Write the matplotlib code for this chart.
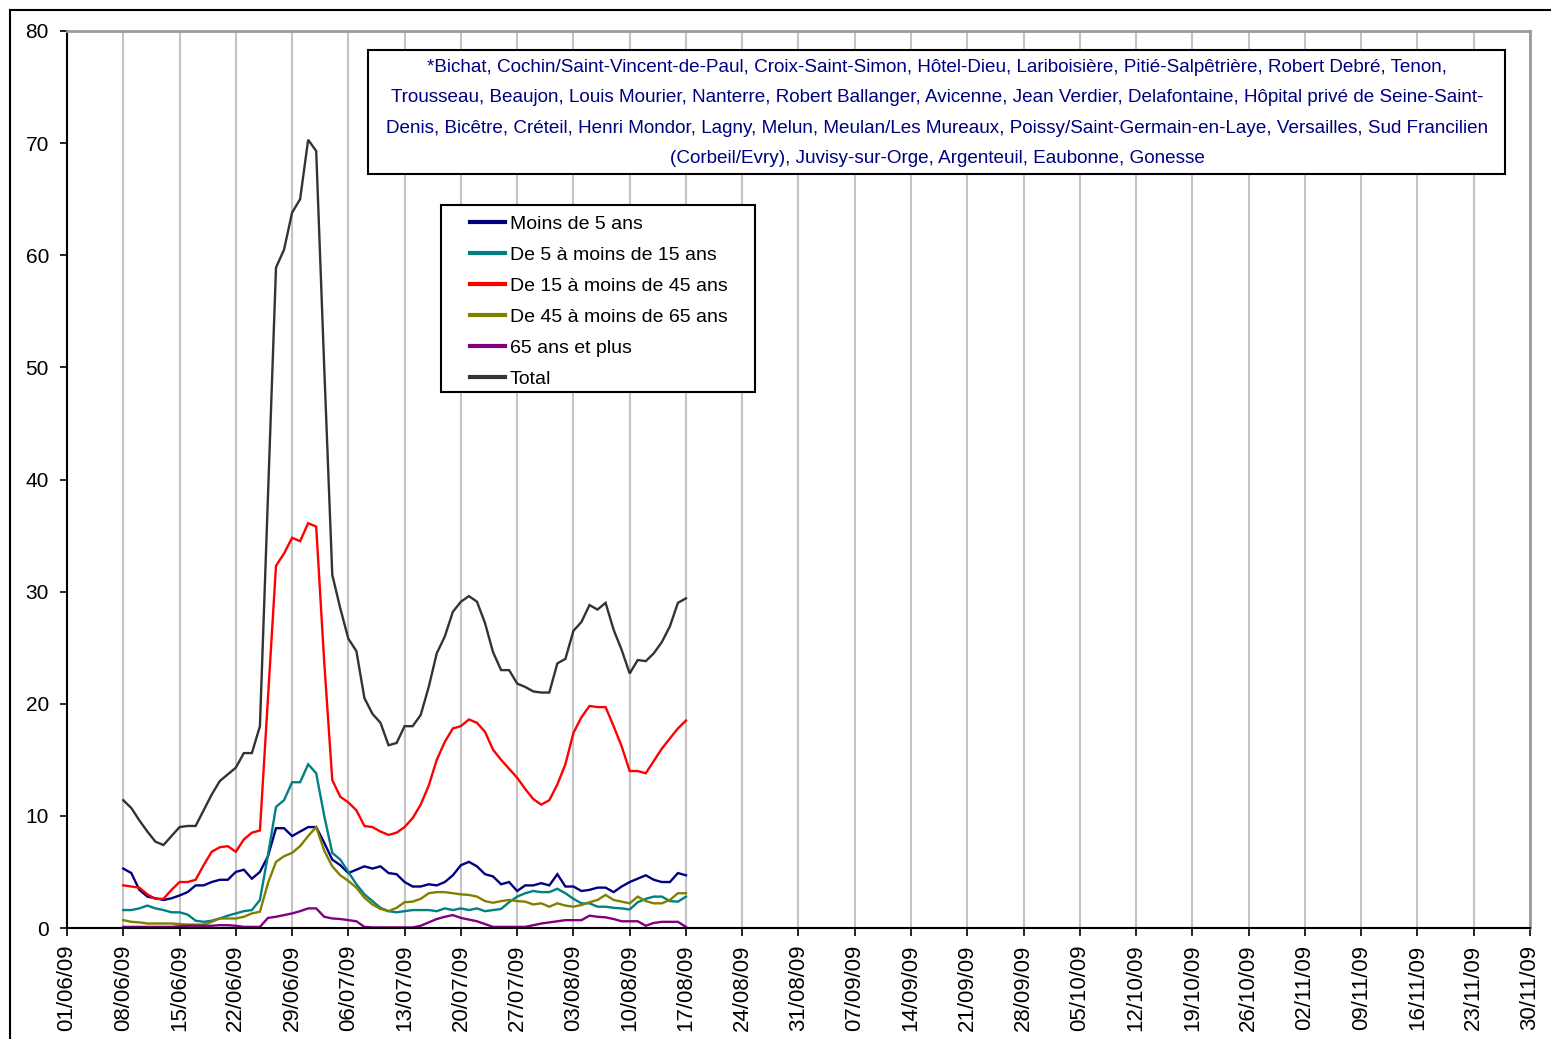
import matplotlib
matplotlib.use("Agg")
import matplotlib.pyplot as plt
from matplotlib.lines import Line2D
from matplotlib.patches import Rectangle
import pandas as pd

plt.rcParams.update({
    "font.family": ["Liberation Sans", "DejaVu Sans"],
    "font.size": 14,
})

# daily values, 08/06/09 -> 17/08/09
dates = pd.date_range("2009-06-08", "2009-08-17", freq="D")

moins5 = [5.3, 4.9, 3.4, 2.8, 2.65, 2.5, 2.65, 2.9, 3.2, 3.8,
          3.8, 4.1, 4.3, 4.3, 5.0, 5.2, 4.4, 5.0, 6.4, 8.9,
          8.9, 8.2, 8.6, 9.0, 9.0, 7.6, 6.1, 5.6, 4.9, 5.2,
          5.5, 5.3, 5.5, 4.9, 4.8, 4.1, 3.7, 3.7, 3.9, 3.8,
          4.1, 4.7, 5.6, 5.9, 5.5, 4.8, 4.6, 3.9, 4.1, 3.3,
          3.8, 3.8, 4.0, 3.8, 4.8, 3.7, 3.7, 3.3, 3.4, 3.6,
          3.6, 3.2, 3.7, 4.1, 4.4, 4.7, 4.3, 4.1, 4.1, 4.9,
          4.7]
de5_15 = [1.6, 1.6, 1.75, 2.0, 1.75, 1.6, 1.4, 1.4, 1.2, 0.65,
          0.55, 0.65, 0.85, 1.1, 1.3, 1.5, 1.6, 2.5, 6.5, 10.8,
          11.4, 13.0, 13.0, 14.6, 13.8, 10.0, 6.7, 6.1, 5.0, 3.9,
          3.0, 2.4, 1.8, 1.5, 1.4, 1.5, 1.6, 1.6, 1.6, 1.5,
          1.75, 1.6, 1.75, 1.6, 1.75, 1.5, 1.6, 1.7, 2.3, 2.8,
          3.1, 3.3, 3.2, 3.2, 3.5, 3.1, 2.6, 2.2, 2.2, 1.9,
          1.9, 1.8, 1.75, 1.65, 2.3, 2.6, 2.8, 2.8, 2.4, 2.35,
          2.8]
de15_45 = [3.8, 3.7, 3.6, 3.0, 2.6, 2.6, 3.4, 4.1, 4.1, 4.3,
           5.6, 6.8, 7.2, 7.3, 6.8, 7.9, 8.5, 8.7, 20.5, 32.3,
           33.4, 34.8, 34.5, 36.1, 35.8, 23.7, 13.2, 11.7, 11.2, 10.5,
           9.1, 9.0, 8.6, 8.3, 8.5, 9.0, 9.8, 11.0, 12.7, 15.0,
           16.6, 17.8, 18.0, 18.6, 18.3, 17.5, 15.9, 15.0, 14.2, 13.4,
           12.4, 11.5, 11.0, 11.4, 12.8, 14.6, 17.4, 18.8, 19.8, 19.7,
           19.7, 18.0, 16.2, 14.0, 14.0, 13.8, 14.9, 16.0, 16.9, 17.8,
           18.5]
de45_65 = [0.7, 0.55, 0.5, 0.4, 0.4, 0.4, 0.4, 0.35, 0.3, 0.3,
           0.3, 0.55, 0.85, 0.85, 0.85, 1.0, 1.3, 1.45, 4.0, 5.9,
           6.4, 6.7, 7.3, 8.2, 9.0, 6.9, 5.5, 4.7, 4.2, 3.6,
           2.7, 2.1, 1.7, 1.5, 1.8, 2.3, 2.35, 2.6, 3.1, 3.2,
           3.2, 3.1, 3.0, 2.95, 2.8, 2.4, 2.25, 2.4, 2.5, 2.4,
           2.35, 2.1, 2.2, 1.9, 2.2, 2.0, 1.9, 2.05, 2.3, 2.5,
           2.95, 2.5, 2.35, 2.2, 2.8, 2.4, 2.2, 2.2, 2.5, 3.1,
           3.1]
plus65 = [0.1, 0.1, 0.1, 0.1, 0.1, 0.1, 0.1, 0.15, 0.2, 0.2,
          0.2, 0.2, 0.25, 0.25, 0.2, 0.1, 0.1, 0.1, 0.9, 1.0,
          1.15, 1.3, 1.5, 1.75, 1.75, 1.0, 0.85, 0.8, 0.7, 0.6,
          0.1, 0.05, 0.05, 0.05, 0.05, 0.05, 0.05, 0.2, 0.5, 0.8,
          1.0, 1.15, 0.9, 0.75, 0.6, 0.35, 0.1, 0.1, 0.1, 0.1,
          0.1, 0.25, 0.4, 0.5, 0.6, 0.7, 0.7, 0.7, 1.1, 1.0,
          0.95, 0.8, 0.6, 0.6, 0.6, 0.2, 0.45, 0.55, 0.55, 0.55,
          0.1]
total = [11.4, 10.7, 9.6, 8.6, 7.7, 7.4, 8.2, 9.0, 9.1, 9.1,
         10.5, 11.9, 13.1, 13.7, 14.3, 15.6, 15.6, 18.0, 38.5, 58.9,
         60.5, 63.8, 65.0, 70.3, 69.3, 50.0, 31.5, 28.5, 25.8, 24.7,
         20.5, 19.1, 18.3, 16.3, 16.5, 18.0, 18.0, 19.0, 21.5, 24.5,
         26.0, 28.2, 29.1, 29.6, 29.1, 27.2, 24.6, 23.0, 23.0, 21.8,
         21.5, 21.1, 21.0, 21.0, 23.6, 24.0, 26.5, 27.3, 28.8, 28.4,
         29.0, 26.6, 24.8, 22.7, 23.9, 23.8, 24.5, 25.5, 26.9, 29.0,
         29.4]

labels = ["Moins de 5 ans", "De 5 à moins de 15 ans", "De 15 à moins de 45 ans",
          "De 45 à moins de 65 ans", "65 ans et plus", "Total"]
colors = ["#000080", "#008080", "#ff0000", "#808000", "#800080", "#333333"]

week_ticks = pd.date_range("2009-06-01", "2009-11-30", freq="7D")

hopitaux = ("*Bichat, Cochin/Saint-Vincent-de-Paul, Croix-Saint-Simon, Hôtel-Dieu, Lariboisière, Pitié-Salpêtrière, Robert Debré, Tenon,\n"
            "Trousseau, Beaujon, Louis Mourier, Nanterre, Robert Ballanger, Avicenne, Jean Verdier, Delafontaine, Hôpital privé de Seine-Saint-\n"
            "Denis, Bicêtre, Créteil, Henri Mondor, Lagny, Melun, Meulan/Les Mureaux, Poissy/Saint-Germain-en-Laye, Versailles, Sud Francilien\n"
            "(Corbeil/Evry), Juvisy-sur-Orge, Argenteuil, Eaubonne, Gonesse")

W, H = 1551, 1039
fig = plt.figure(figsize=(W / 100, H / 100), dpi=100)
ax = fig.add_axes([67 / W, 1 - 928 / H, (1530 - 67) / W, (928 - 31) / H])

series = [moins5, de5_15, de15_45, de45_65, plus65, total]
for vals, lab, col in zip(series, labels, colors):
    ax.plot(dates, vals, color=col, lw=1.7, label=lab, solid_joinstyle="miter")

ax.set_ylim(0, 80)
ax.set_yticks(range(0, 81, 10))
ax.set_xlim(week_ticks[0], week_ticks[-1])
ax.set_xticks(week_ticks)
ax.set_xticklabels([d.strftime("%d/%m/%y") for d in week_ticks], rotation=90)
ax.tick_params(axis="x", direction="out", length=6, width=1.2, pad=6, labelsize=16)
ax.tick_params(axis="y", direction="out", length=5, width=1.2, pad=8, labelsize=15)
ax.xaxis.grid(True, color="#c4c4c4", lw=1.5)
ax.set_axisbelow(True)

for s in ["left", "bottom"]:
    ax.spines[s].set_color("black")
    ax.spines[s].set_linewidth(1.5)
for s in ["top", "right"]:
    ax.spines[s].set_color("#9a9a9a")
    ax.spines[s].set_linewidth(2)

# legend: frame drawn separately (wide side margins, tight top/bottom)
ax.add_patch(Rectangle((441 / W, 1 - 392 / H), (755 - 441) / W, (392 - 205) / H,
                       transform=fig.transFigure, facecolor="white",
                       edgecolor="black", lw=1.5, zorder=4, clip_on=False))
leg = ax.legend(loc="upper left", bbox_to_anchor=(470 / W, 1 - 215 / H),
                bbox_transform=fig.transFigure, borderaxespad=0, borderpad=0,
                frameon=False, fontsize=14, handlelength=1.8,
                handletextpad=0.26, labelspacing=0.69)
leg.set_zorder(6)
for h in leg.get_lines():
    h.set_linewidth(3)

# list of hospitals box
ax.add_patch(Rectangle((368 / W, 1 - 174 / H), (1505 - 368) / W, (174 - 50) / H,
                       transform=fig.transFigure, facecolor="white",
                       edgecolor="black", lw=1.5, zorder=4, clip_on=False))
ax.text(937 / W, 1 - 113 / H, hopitaux, transform=fig.transFigure,
        ha="center", va="center", multialignment="center", color="#000080",
        fontsize=13.6, linespacing=2.03, zorder=6)

# outer frame of the chart
fig.add_artist(Line2D([10 / W, 10 / W], [0, 1 - 10 / H], transform=fig.transFigure,
                      color="black", lw=1.5))
fig.add_artist(Line2D([10 / W, 1], [1 - 10 / H, 1 - 10 / H], transform=fig.transFigure,
                      color="black", lw=1.5))

fig.savefig("out.png", dpi=100)
